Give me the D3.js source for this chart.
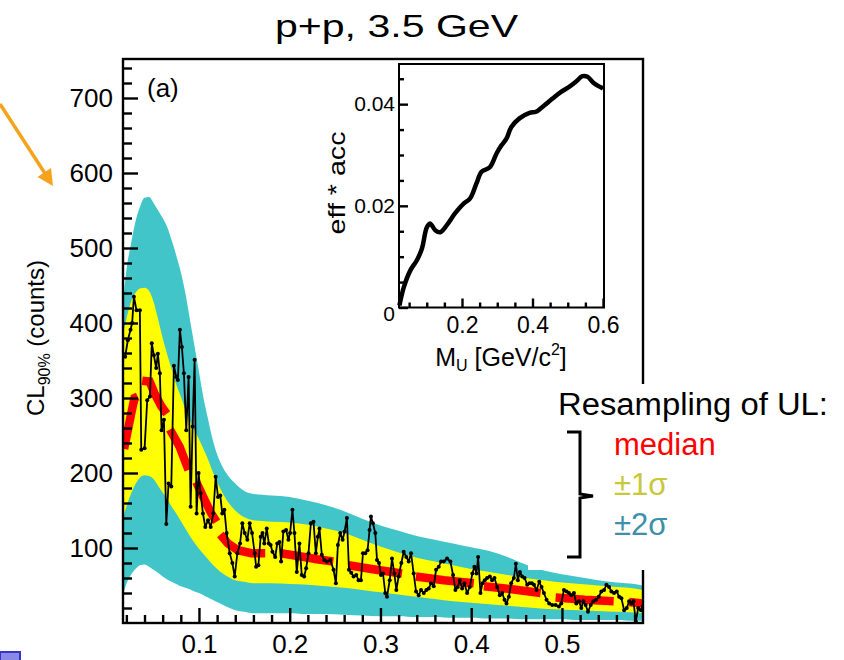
<!DOCTYPE html>
<html><head><meta charset="utf-8">
<script src="https://cdn.jsdelivr.net/npm/d3@7"></script>
<style>
body{margin:0;background:#fff}
svg{display:block}
text{font-family:"Liberation Sans",Arial,Helvetica,sans-serif}
</style>
</head><body>
<svg id="c" width="844" height="660"></svg>
<script>
// ---------- DATA ----------
const bandX  = [0.0163,0.02,0.025,0.03,0.035,0.04,0.045,0.05,0.055,0.06,0.065,0.07,0.075,0.08,0.085,0.09,0.095,0.10,0.105,0.11,0.115,0.12,0.13,0.14,0.15,0.16,0.17,0.18,0.20,0.22,0.24,0.26,0.28,0.30,0.32,0.34,0.36,0.38,0.40,0.42,0.44,0.46,0.48,0.50,0.52,0.54,0.56,0.58,0.5893];
const upper2 = [425,470,505,535,555,567,568,560,550,540,528,510,490,468,440,405,370,335,300,272,245,225,200,186,176,172,171,170,168,163,157,149,139,130,123,116,111,106,101,96,88,78,70,65,61,57,54,52,50];
const upper1 = [385,405,428,440,446,447,443,428,405,380,358,338,318,302,285,270,257,245,232,218,202,188,165,150,141,137,136,135,134,131,126,120,111,102,94,87,82,77,72,68,64,60,57,54,52,50,48,46,44];
const lower1 = [140,155,172,185,194,197,196,192,183,174,165,155,146,136,126,116,107,99,92,85,78,72,63,57,55,53,53,53,52,51,49,47,44,41,38,35,32,29,27,25,23,21,19,18,17,16,15,14,13];
const lower2 = [38,52,64,72,77,78,75,71,67,62,58,55,52,49,47,45,42,40,37,34,31,28,22,17,15,13,13,13,13,12,12,11,10,9,9,8,8,7,7,6,6,5,5,5,4,4,4,3,3];

const medianSegments = [
  [[0.0175,232],[0.0253,279],[0.029,300],[0.0325,302]],
  [[0.0375,323],[0.0456,322],[0.0511,306],[0.0585,289],[0.0645,279]],
  [[0.068,258],[0.0787,235],[0.0885,204]],
  [[0.097,188],[0.1063,164],[0.1136,146],[0.1195,135]],
  [[0.1235,118],[0.132,106],[0.143,97],[0.1578,93],[0.173,93]],
  [[0.19,93],[0.211,89],[0.23,85],[0.248,82]],
  [[0.265,77],[0.29,72],[0.3237,66]],
  [[0.339,62],[0.37,57],[0.4028,53]],
  [[0.414,49],[0.445,45],[0.4765,40]],
  [[0.493,34],[0.525,31],[0.557,29]],
  [[0.574,28],[0.5893,26]]
];

const dataX = [0.0187,0.0216,0.0246,0.0264,0.0283,0.0312,0.0349,0.0364,0.0401,0.043,0.046,0.048,0.0503,0.0529,0.0547,0.0569,0.0588,0.0614,0.064,0.0665,0.0695,0.0724,0.075,0.0768,0.079,0.0812,0.0834,0.086,0.0886,0.0908,0.093,0.0952,0.0974,0.0996,0.1018,0.1044,0.107,0.11,0.1129,0.1158,0.1184,0.121,0.1235,0.1257,0.128,0.1305,0.1339,0.1368,0.1394,0.1423,0.1453,0.1478,0.1504,0.1533,0.1559,0.1585,0.1614,
0.163,0.1655,0.168,0.170,0.172,0.1747,0.177,0.179,0.181,0.184,0.1863,0.1887,0.1905,0.193,0.196,0.1986,0.2004,0.203,0.2052,0.2078,0.2107,0.2133,0.2159,0.2181,0.2207,0.2233,0.2262,0.2288,0.231,0.2328,0.2354,0.238,0.241,0.2447,0.2483,0.2509,0.2531,0.2557,0.2583,0.2605,0.263,0.2653,0.2678,0.2704,0.2733,0.2759,0.2785,0.2807,0.2833,0.2858,0.288,0.2895,0.2917,0.2943,0.2962,0.2984,0.3006,0.3028,0.3053,0.3072,0.3102,0.3127,0.3153,0.3175,0.32,0.323,0.3256,0.3285,0.3311,0.3337,0.3366,0.3392,0.3421,0.3447,0.3477,0.3506,0.3532,0.3557,0.3587,0.3613,0.3642,0.3668,0.3697,0.3734,
0.3771,0.3800,0.3826,0.3852,0.3874,0.39,0.3925,0.3955,0.3984,0.4013,0.4035,0.4058,0.4076,0.4102,0.4124,0.4149,0.4175,0.4205,0.4230,0.4256,0.4286,0.4315,0.4341,0.4367,0.4389,0.4415,0.444,0.447,0.4492,0.4514,0.4536,0.4562,0.4588,0.4617,0.4643,0.4669,0.4691,0.472,0.475,0.4775,0.4801,0.483,0.486,0.4893,0.493,0.4966,0.4992,0.5022,0.5051,0.5077,0.5103,0.5132,0.5158,0.5188,0.5213,0.5236,0.5261,0.5287,0.5317,0.5346,0.5376,0.5405,0.5434,0.5464,0.549,0.5519,0.5545,0.5574,0.5604,0.563,0.5655,0.5685,0.5714,0.574,0.5766,0.5788,0.5814,0.584,0.587,0.589];
const dataY = [355,377,391,400,435,417,417,231,233,297,302,373,357,340,359,333,257,271,132,186,182,343,328,324,391,368,333,257,328,155,262,351,146,200,173,146,128,137,128,146,195,168,170,146,151,120,93,80,62,93,106,133,120,111,133,120,93,
75,77,115,120,106,126,106,104,95,88,106,108,82,122,124,111,120,151,120,68,106,64,62,73,93,133,135,93,115,126,91,84,82,84,71,53,104,120,111,122,140,71,67,62,64,57,57,93,93,97,124,142,133,120,84,80,64,66,40,35,57,86,66,44,62,80,95,88,82,93,66,42,37,44,40,44,46,53,49,71,75,82,82,86,
82,64,44,48,57,46,53,40,48,66,75,66,88,40,53,57,60,62,57,60,48,37,40,31,26,35,53,60,79,57,68,62,60,51,53,53,51,44,55,48,40,31,26,24,24,22,26,44,42,40,37,40,26,29,20,29,24,15,24,29,31,35,42,44,51,48,42,40,42,35,33,17,20,29,26,29,2,20,17,22];

const effX = [0.0225,0.035,0.0535,0.072,0.0864,0.1005,0.11,0.124,0.138,0.157,0.18,0.204,0.2225,0.241,0.2555,0.279,0.298,0.312,0.326,0.34,0.363,0.3915,0.41,0.429,0.457,0.481,0.504,0.523,0.5415,0.556,0.5745,0.6];
const effY = [0.0004,0.004,0.0073,0.0093,0.0116,0.0158,0.0165,0.0152,0.0148,0.0162,0.0185,0.0204,0.0214,0.0244,0.0267,0.0276,0.0303,0.0319,0.0332,0.0355,0.0372,0.0383,0.0385,0.0395,0.0411,0.0424,0.0434,0.0444,0.0455,0.0454,0.0441,0.0431];

const yMajorTicks = [100,200,300,400,500,600,700];
const xMajorTicks = [0.1,0.2,0.3,0.4,0.5];
const effYTicks = [0,0.02,0.04];
const effXTicks = [0.2,0.4,0.6];
const legendItems = [
  {label:"median", color:"#ff0000"},
  {label:"\u00b11\u03c3", color:"#c8c83a"},
  {label:"\u00b12\u03c3", color:"#3d8fac"}
];

// ---------- DRAW ----------
const svg = d3.select("#c");
const x = d3.scaleLinear().domain([0.0163,0.5893]).range([123,643]);
const y = d3.scaleLinear().domain([0,752]).range([623,59]);

svg.append("defs").append("clipPath").attr("id","plotclip")
  .append("rect").attr("x",123).attr("y",59).attr("width",520).attr("height",564);

const plot = svg.append("g").attr("clip-path","url(#plotclip)");
const idx = d3.range(bandX.length);
const area = (hi, lo) => d3.area().curve(d3.curveMonotoneX)
  .x(i=>x(bandX[i])).y0(i=>y(lo[i])).y1(i=>y(hi[i]));

plot.append("path").attr("d", area(upper2, lower2)(idx)).attr("fill","#42c5c8");
plot.append("path").attr("d", area(upper1, lower1)(idx)).attr("fill","#ffff00");

const mline = d3.line().x(d=>x(d[0])).y(d=>y(d[1]));
plot.selectAll("path.med").data(medianSegments).join("path").attr("class","med")
  .attr("d", mline).attr("fill","none").attr("stroke","#ff0000")
  .attr("stroke-width",8.5).attr("stroke-linecap","butt");

const pts = dataX.map((v,i)=>[v,dataY[i]]);
plot.append("path").attr("d", mline(pts)).attr("fill","none")
  .attr("stroke","#000").attr("stroke-width",1.8).attr("stroke-linejoin","round");
plot.selectAll("circle.pt").data(pts).join("circle").attr("class","pt")
  .attr("cx",d=>x(d[0])).attr("cy",d=>y(d[1])).attr("r",2).attr("fill","#000");

// axes
const yMinor = d3.range(20,741,20).filter(v=>v%100!==0);
const xMinor = d3.range(2,59,2).filter(v=>v%10!==0).map(v=>v/100);
function styleAxis(g, fs){
  g.select(".domain").remove();
  g.selectAll(".tick line").attr("stroke","#000").attr("stroke-width",2.4);
  g.selectAll(".tick text").attr("fill","#000").attr("font-size",fs)
    .attr("font-family","'Liberation Sans',Arial,sans-serif");
}
svg.append("g").attr("transform","translate(123,0)")
  .call(d3.axisLeft(y).tickValues(yMinor).tickSize(-9).tickSizeOuter(0).tickFormat(""))
  .call(g=>styleAxis(g,26));
svg.append("g").attr("transform","translate(123,0)")
  .call(d3.axisLeft(y).tickValues(yMajorTicks).tickSize(-15).tickSizeOuter(0).tickPadding(10).tickFormat(d3.format("d")))
  .call(g=>styleAxis(g,26));
svg.append("g").attr("transform","translate(0,623)")
  .call(d3.axisBottom(x).tickValues(xMinor).tickSize(-8).tickSizeOuter(0).tickFormat(""))
  .call(g=>styleAxis(g,26));
svg.append("g").attr("transform","translate(0,623)")
  .call(d3.axisBottom(x).tickValues(xMajorTicks).tickSize(-15).tickSizeOuter(0).tickPadding(12).tickFormat(d3.format(".1f")))
  .call(g=>styleAxis(g,26));

svg.append("rect").attr("x",123).attr("y",59).attr("width",520).attr("height",564)
  .attr("fill","none").attr("stroke","#000").attr("stroke-width",2.4);

// (a)
svg.append("text").attr("x",147).attr("y",97).attr("font-size",26).text("(a)");

// y-axis label
const yl = svg.append("text").attr("transform","translate(44,338) rotate(-90)")
  .attr("text-anchor","middle").attr("font-size",24);
yl.append("tspan").text("CL");
yl.append("tspan").attr("font-size",16).attr("dy",6).text("90%");
yl.append("tspan").attr("dy",-6).text(" (counts)");

// title
svg.append("text").attr("x",275).attr("y",37).attr("font-size",32)
  .attr("textLength",243).attr("lengthAdjust","spacingAndGlyphs").text("p+p, 3.5 GeV");

// ---------- INSET ----------
const ix = d3.scaleLinear().domain([0.0213,0.6028]).range([399,604]);
const iy = d3.scaleLinear().domain([0,0.0479]).range([307.5,64]);
svg.append("rect").attr("x",399).attr("y",64).attr("width",205).attr("height",243.5)
  .attr("fill","#fff");
const iyMinor = d3.range(1,10).filter(v=>v%4!==0).map(v=>v*0.005);
const ixMinor = d3.range(1,12).filter(v=>v%4!==0).map(v=>v*0.05);
svg.append("g").attr("transform","translate(399,0)")
  .call(d3.axisLeft(iy).tickValues(iyMinor).tickSize(-5).tickSizeOuter(0).tickFormat(""))
  .call(g=>styleAxis(g,21));
svg.append("g").attr("transform","translate(399,0)")
  .call(d3.axisLeft(iy).tickValues(effYTicks).tickSize(-9).tickSizeOuter(0).tickPadding(4)
    .tickFormat(v=>v===0?"0":d3.format(".2f")(v)))
  .call(g=>styleAxis(g,21))
  .call(g=>g.selectAll(".tick text").filter(d=>d===0).attr("dy","0.6em"));
svg.append("g").attr("transform","translate(0,307.5)")
  .call(d3.axisBottom(ix).tickValues(ixMinor).tickSize(-5).tickSizeOuter(0).tickFormat(""))
  .call(g=>styleAxis(g,21));
svg.append("g").attr("transform","translate(0,307.5)")
  .call(d3.axisBottom(ix).tickValues(effXTicks).tickSize(-9).tickSizeOuter(0).tickPadding(9).tickFormat(d3.format(".1f")))
  .call(g=>styleAxis(g,23));
svg.append("path").attr("d", d3.line().curve(d3.curveCatmullRom).x((d,i)=>ix(effX[i])).y((d,i)=>iy(effY[i]))(effX))
  .attr("fill","none").attr("stroke","#000").attr("stroke-width",4.5).attr("stroke-linejoin","round");
svg.append("rect").attr("x",399).attr("y",64).attr("width",205).attr("height",243.5)
  .attr("fill","none").attr("stroke","#000").attr("stroke-width",2);

svg.append("text").attr("transform","translate(345,183) rotate(-90)").attr("text-anchor","middle")
  .attr("font-size",24).attr("textLength",103).attr("lengthAdjust","spacingAndGlyphs").text("eff * acc");
const xl = svg.append("text").attr("x",501).attr("y",366).attr("text-anchor","middle").attr("font-size",25);
xl.append("tspan").text("M");
xl.append("tspan").attr("font-size",16).attr("dy",5).text("U");
xl.append("tspan").attr("dy",-5).text(" [GeV/c");
xl.append("tspan").attr("font-size",16).attr("dy",-11).text("2");
xl.append("tspan").attr("dy",11).text("]");

// ---------- LEGEND ----------
svg.append("rect").attr("x",528).attr("y",384).attr("width",316).attr("height",186).attr("fill","#fff");
svg.append("text").attr("x",558).attr("y",415).attr("font-size",31)
  .attr("textLength",270).attr("lengthAdjust","spacingAndGlyphs").text("Resampling of UL:");
svg.selectAll("text.leg").data(legendItems).join("text").attr("class","leg")
  .attr("x",614).attr("y",(d,i)=>455+i*40).attr("font-size",31)
  .attr("fill",d=>d.color).text(d=>d.label);
svg.append("path").attr("d","M567,432 H580 V494 L593,496 L580,498 V557 H567")
  .attr("fill","none").attr("stroke","#000").attr("stroke-width",3);

// ---------- decorations ----------
svg.append("line").attr("x1",0).attr("y1",104).attr("x2",46).attr("y2",175)
  .attr("stroke","#f5a31c").attr("stroke-width",3.5);
svg.append("path").attr("d","M53,186 L37.5,177 L51,168 Z").attr("fill","#f5a31c");
svg.append("rect").attr("x",0).attr("y",652).attr("width",20).attr("height",9)
  .attr("fill","#8a8ae6").attr("stroke","#3535c8").attr("stroke-width",2);
</script>
</body></html>
